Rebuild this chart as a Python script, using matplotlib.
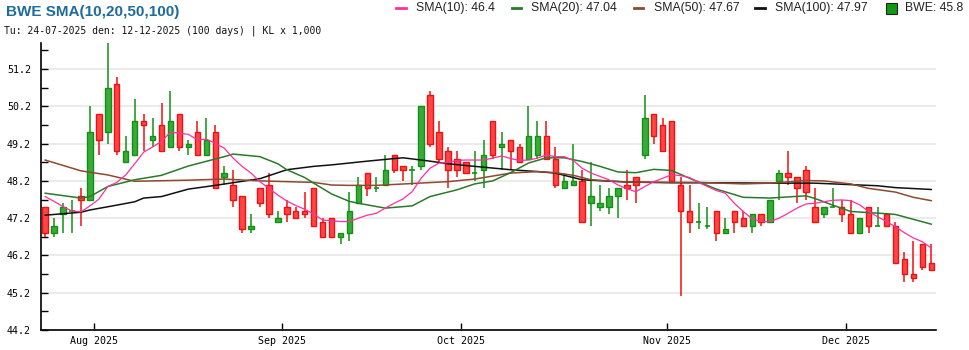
import numpy as np
import pandas as pd
import matplotlib
matplotlib.use("Agg")
import matplotlib.pyplot as plt
from matplotlib.lines import Line2D
from matplotlib.patches import Rectangle

# ---- daily prices (thousand VND) ----
opens = [47.5, 46.8, 47.3, 47.4, 47.8, 47.7, 50.0, 49.5, 50.8, 48.7,
         48.9, 49.8, 49.3, 49.7, 49.1, 50.0, 49.1, 49.5, 48.9, 49.5,
         48.3, 48.1, 47.8, 46.9, 48.0, 48.1, 47.1, 47.5, 47.4, 47.4,
         48.0, 47.1, 47.2, 46.7, 46.8, 47.6, 48.4, 48.0, 48.1, 48.9,
         48.6, 48.5, 48.6, 50.5, 49.5, 49.0, 48.8, 48.7, 48.4, 48.5,
         49.8, 49.1, 49.3, 49.1, 48.8, 48.9, 49.4, 48.8, 48.0, 48.1,
         48.2, 47.6, 47.5, 47.5, 47.8, 48.1, 48.3, 48.9, 50.0, 49.7,
         49.8, 48.1, 47.4, 47.1, 47.0, 47.4, 46.8, 47.4, 47.2, 47.0,
         47.3, 47.1, 48.2, 48.4, 48.3, 48.5, 47.5, 47.3, 47.5, 47.5,
         47.3, 46.8, 47.5, 47.0, 47.3, 47.0, 46.1, 45.7, 46.5, 46.0]
highs = [47.5, 47.2, 47.6, 47.7, 48.0, 50.2, 50.0, 51.9, 51.0, 49.4,
         50.4, 50.0, 49.9, 50.3, 50.6, 50.0, 49.3, 49.8, 49.9, 49.7,
         48.6, 48.5, 47.8, 47.3, 48.0, 48.4, 47.4, 47.7, 47.5, 47.9,
         48.0, 47.2, 47.2, 46.8, 47.9, 48.3, 48.4, 48.3, 48.9, 48.9,
         48.6, 48.6, 50.2, 50.6, 49.8, 49.1, 49.0, 48.7, 49.0, 49.3,
         49.8, 49.5, 49.3, 49.2, 50.2, 49.8, 49.8, 49.1, 48.4, 49.2,
         48.5, 48.7, 48.1, 48.0, 48.0, 48.5, 48.3, 50.5, 50.0, 49.9,
         49.8, 48.3, 48.1, 47.6, 47.5, 47.4, 47.2, 47.4, 47.4, 47.3,
         47.3, 47.7, 48.5, 49.0, 48.3, 48.6, 48.0, 47.5, 48.0, 47.7,
         47.7, 47.2, 47.5, 47.5, 47.3, 47.1, 46.3, 46.6, 46.5, 46.5]
lows = [46.7, 46.7, 46.8, 46.8, 47.0, 47.7, 48.9, 49.2, 48.9, 48.7,
        48.9, 49.0, 49.1, 49.0, 49.1, 49.0, 48.9, 48.9, 48.9, 48.0,
        48.1, 47.5, 46.8, 46.8, 47.5, 47.2, 47.1, 47.1, 47.2, 47.2,
        47.0, 46.7, 46.7, 46.5, 46.6, 47.6, 47.8, 47.9, 48.1, 48.4,
        48.2, 48.1, 48.5, 49.1, 48.7, 48.0, 48.3, 48.4, 48.2, 48.0,
        48.8, 48.5, 48.5, 48.7, 48.8, 48.8, 48.8, 48.0, 48.0, 48.1,
        47.1, 47.0, 47.4, 47.3, 47.2, 47.7, 47.6, 48.8, 49.2, 49.0,
        48.2, 45.1, 46.8, 46.9, 46.9, 46.6, 46.8, 46.8, 47.0, 46.8,
        47.0, 47.1, 47.7, 48.1, 47.6, 47.7, 47.1, 47.2, 47.5, 47.1,
        46.8, 46.8, 46.8, 47.0, 47.0, 46.0, 45.5, 45.5, 45.8, 45.8]
closes = [46.8, 47.0, 47.5, 47.4, 47.7, 49.5, 49.3, 50.7, 49.0, 49.0,
          49.8, 49.7, 49.4, 49.0, 49.8, 49.1, 49.2, 48.9, 49.3, 48.0,
          48.4, 47.7, 46.9, 47.0, 47.6, 47.3, 47.2, 47.3, 47.2, 47.3,
          47.0, 46.7, 46.7, 46.8, 47.4, 48.1, 48.0, 48.0, 48.5, 48.5,
          48.5, 48.5, 50.2, 49.2, 48.8, 48.5, 48.5, 48.4, 48.4, 48.9,
          48.9, 49.2, 49.0, 48.7, 49.4, 49.4, 48.8, 48.1, 48.2, 48.2,
          47.1, 47.8, 47.6, 47.8, 48.0, 48.0, 48.1, 49.9, 49.4, 49.0,
          48.2, 47.4, 47.1, 47.1, 47.0, 46.8, 46.9, 47.1, 47.0, 47.3,
          47.1, 47.7, 48.4, 48.3, 48.0, 47.9, 47.1, 47.5, 47.5, 47.3,
          46.8, 47.2, 47.0, 47.0, 47.0, 46.0, 45.7, 45.6, 45.9, 45.8]

# ---- moving averages ----
sma10 = [47.78, 47.65, 47.51, 47.39, 47.37, 47.53, 47.71, 48.05, 48.16, 48.36,
         48.66, 48.97, 49.11, 49.26, 49.51, 49.48, 49.45, 49.30, 49.32, 49.21,
         49.08, 48.81, 48.59, 48.41, 48.18, 48.00, 47.82, 47.66, 47.54, 47.44,
         47.31, 47.15, 47.13, 47.11, 47.11, 47.20, 47.28, 47.33, 47.47, 47.60,
         47.72, 47.91, 48.27, 48.54, 48.68, 48.69, 48.75, 48.76, 48.76, 48.76,
         48.81, 48.87, 48.80, 48.75, 48.76, 48.81, 48.90, 48.85, 48.85, 48.75,
         48.54, 48.41, 48.32, 48.23, 48.09, 47.99, 47.91, 48.05, 48.18, 48.27,
         48.37, 48.34, 48.29, 48.16, 48.05, 47.94, 47.87, 47.60, 47.38, 47.18,
         47.11, 47.11, 47.20, 47.33, 47.47, 47.58, 47.60, 47.64, 47.68, 47.69,
         47.67, 47.56, 47.38, 47.24, 47.11, 46.97, 46.81, 46.67, 46.57, 46.40]

sma20_idx = [0, 4, 5, 7, 10, 13, 16, 20, 21, 24, 26, 27, 29, 30, 32, 34, 35,
             38, 41, 43, 46, 48, 50, 52, 54, 56, 58, 60, 62, 64, 66, 68, 70,
             72, 75, 78, 81, 85, 86, 88, 90, 94, 95, 97, 99]
sma20_val = [47.87, 47.74, 47.78, 48.05, 48.23, 48.35, 48.60, 48.85, 48.92,
             48.85, 48.66, 48.50, 48.29, 48.14, 47.85, 47.65, 47.60, 47.47,
             47.53, 47.78, 47.96, 48.12, 48.20, 48.42, 48.68, 48.82, 48.82,
             48.72, 48.59, 48.44, 48.42, 48.51, 48.48, 48.27, 47.98, 47.76,
             47.74, 47.80, 47.73, 47.55, 47.38, 47.32, 47.30, 47.17, 47.04]

sma50_idx = [0, 4, 7, 10, 16, 20, 24, 30, 32, 34, 37, 41, 45, 48, 49, 52,
             55, 57, 59, 61, 65, 73, 78, 81, 85, 87, 90, 92, 95, 97, 99]
sma50_val = [48.76, 48.47, 48.36, 48.19, 48.22, 48.25, 48.20, 48.16, 48.09,
             48.08, 48.08, 48.13, 48.18, 48.25, 48.29, 48.41, 48.45, 48.42,
             48.35, 48.23, 48.17, 48.16, 48.12, 48.14, 48.21, 48.20, 48.12,
             48.00, 47.90, 47.76, 47.67]

sma100_idx = [0, 4, 5, 8, 10, 11, 13, 16, 19, 24, 27, 30, 32, 36, 39, 40,
              43, 45, 48, 52, 55, 57, 60, 65, 70, 75, 81, 86, 90, 93, 95, 99]
sma100_val = [47.28, 47.36, 47.42, 47.55, 47.64, 47.74, 47.78, 47.98, 48.08,
              48.26, 48.50, 48.59, 48.63, 48.73, 48.80, 48.82, 48.73, 48.66,
              48.59, 48.50, 48.45, 48.41, 48.23, 48.17, 48.15, 48.15, 48.14,
              48.14, 48.10, 48.07, 48.02, 47.97]

# trading calendar (HOSE closed 1-2 Sep 2025)
days = pd.bdate_range("2025-07-24", "2025-12-12")
days = days[~days.isin(pd.to_datetime(["2025-09-01", "2025-09-02"]))]

W, H = 970, 350
fig = plt.figure(figsize=(W / 100, H / 100), dpi=100)
fig.patch.set_facecolor("white")


def fx(px):
    return px / W


def fy(py):
    return 1 - py / H


ax = fig.add_axes([fx(40.7), fy(330), fx(935.7) - fx(40.7), fy(43) - fy(330)])

o = np.array(opens)
h = np.array(highs)
l = np.array(lows)
c = np.array(closes)
x = np.arange(len(c))
up = c >= o

RED_FILL, RED_EDGE = "#ff4646", "#ee1111"
GRN_FILL, GRN_EDGE = "#3aaa3a", "#119111"

wick_col = np.where(up, GRN_EDGE, RED_EDGE)
ax.vlines(x, l, h, colors=wick_col, linewidth=1.1, zorder=2)

bw = 0.6
body = np.abs(c - o) > 1e-9
ax.bar(x[body], np.abs(c - o)[body], bottom=np.minimum(o, c)[body], width=bw,
       color=np.where(up, GRN_FILL, RED_FILL)[body],
       edgecolor=np.where(up, GRN_EDGE, RED_EDGE)[body],
       linewidth=1.0, zorder=3)
doji = ~body
ax.hlines(c[doji], x[doji] - bw / 2, x[doji] + bw / 2, colors=GRN_EDGE,
          linewidth=1.2, zorder=3)

C10, C20, C50, C100 = "#ff2fa0", "#2a7a2a", "#8c4a2f", "#111111"
ax.plot(sma100_idx, sma100_val, color=C100, lw=1.1, zorder=4)
ax.plot(sma50_idx, sma50_val, color=C50, lw=1.1, zorder=4)
ax.plot(sma20_idx, sma20_val, color=C20, lw=1.1, zorder=4)
ax.plot(x, sma10, color=C10, lw=0.9, zorder=4)

ax.set_xlim(-0.5, len(c) - 0.5)
ax.set_ylim(44.2, 51.9)

yt = np.arange(44.2, 51.25, 1.0)
ax.set_yticks(yt)
ax.set_yticklabels([f"{v:.1f}" for v in yt])
ax.set_yticks(np.arange(44.7, 51.9, 1.0), minor=True)
ax.grid(axis="y", which="major", color="#ebebeb", lw=1.4, zorder=0)
ax.set_axisbelow(True)

months = days.to_period("M")
starts = [i for i in range(1, len(days)) if months[i] != months[i - 1]]
ax.set_xticks([i - 0.5 for i in starts])
ax.set_xticklabels([days[i].strftime("%b %Y") for i in starts])

mono = "DejaVu Sans Mono"
ax.tick_params(axis="both", which="both", direction="in", length=5, width=1,
               color="black", labelsize=7.2, labelfontfamily=mono)
ax.tick_params(axis="y", which="both", pad=7)
ax.tick_params(axis="x", pad=4)
ax.tick_params(axis="x", which="minor", bottom=False)
for s in ("top", "right"):
    ax.spines[s].set_visible(False)
for s in ("left", "bottom"):
    ax.spines[s].set_linewidth(1.2)

# header
fig.text(fx(6), fy(12), "BWE SMA(10,20,50,100)", fontsize=11, fontweight="bold",
         family="Liberation Sans", color="#1d6c9b", va="center", ha="left")
fig.text(fx(4), fy(31),
         f"Tu: {days[0]:%d-%m-%Y} den: {days[-1]:%d-%m-%Y} ({len(days)} days) | KL x 1,000",
         fontsize=7, family=mono, va="center", ha="left", color="#111111")


def fmt(v):
    return f"{v:.2f}".rstrip("0").rstrip(".")


legend = [("SMA(10)", sma10[-1], C10, 396, 406, 416),
          ("SMA(20)", sma20_val[-1], C20, 512, 521, 531),
          ("SMA(50)", sma50_val[-1], C50, 634, 643, 654),
          ("SMA(100)", sma100_val[-1], C100, 755, 765, 775)]
for name, val, col, x0, x1, tx in legend:
    fig.add_artist(Line2D([fx(x0), fx(x1)], [fy(8), fy(8)], color=col, lw=2,
                          transform=fig.transFigure))
    fig.text(fx(tx), fy(8), f"{name}: {fmt(val)}", fontsize=8.8,
             family="Liberation Sans", va="center", ha="left", color="#222222")
fig.add_artist(Rectangle((fx(886), fy(14)), fx(11), 11 / H, facecolor="#119911",
                         edgecolor="#222222", lw=0.8, transform=fig.transFigure))
fig.text(fx(905), fy(8), f"BWE: {fmt(closes[-1])}", fontsize=8.8,
         family="Liberation Sans", va="center", ha="left", color="#222222")

fig.savefig("out.png", dpi=100, facecolor="white")
